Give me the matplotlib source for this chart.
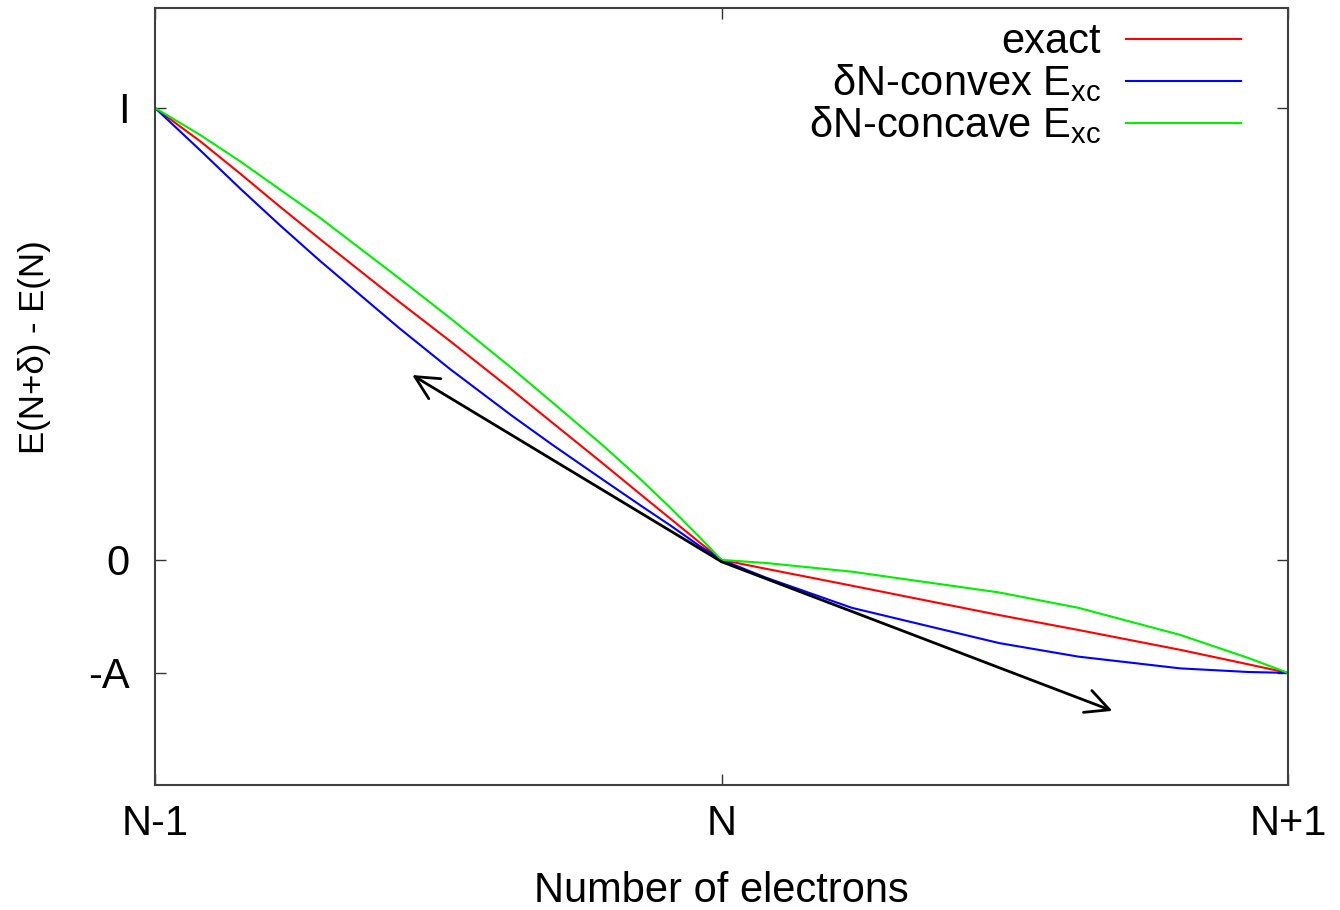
import matplotlib
matplotlib.use("Agg")
import matplotlib.pyplot as plt

# ---- data ----
x_vals = [-1.0, -0.92, -0.85, -0.78, -0.71, -0.57, -0.48, -0.37, -0.30, -0.21,
          -0.14, -0.09, -0.04, 0.0, 0.08, 0.23, 0.49, 0.63, 0.81, 0.93, 1.0]
exact = [1.0, 0.926, 0.855, 0.782, 0.711, 0.572, 0.485, 0.376, 0.305, 0.214,
         0.142, 0.091, 0.040, 0.0, -0.020, -0.057, -0.122, -0.155, -0.199, -0.231, -0.25]
convex = [1.0, 0.906, 0.822, 0.741, 0.663, 0.514, 0.423, 0.319, 0.256, 0.178,
          0.118, 0.076, 0.032, 0.0, -0.040, -0.106, -0.184, -0.214, -0.240, -0.248, -0.25]
concave = [1.0, 0.940, 0.882, 0.820, 0.758, 0.624, 0.536, 0.424, 0.350, 0.254,
           0.175, 0.115, 0.052, 0.0, -0.007, -0.026, -0.072, -0.106, -0.166, -0.217, -0.25]

series_labels = ["exact", r"δN-convex E$_{xc}$", r"δN-concave E$_{xc}$"]
series_colors = ["#ff0000", "#0000ff", "#00ee00"]

arrow_tail = (0.0, -0.004)
arrow_heads = [(-0.546, 0.409), (0.690, -0.334)]

x_ticks = [-1, 0, 1]
x_ticklabels = ["N-1", "N", "N+1"]
y_ticks = [1.0, 0.0, -0.25]
y_ticklabels = ["I", "0", "-A"]

# ---- figure ----
plt.rcParams["font.family"] = ["Liberation Sans", "DejaVu Sans"]
plt.rcParams["mathtext.default"] = "regular"

fig = plt.figure(figsize=(13.4, 9.1), dpi=100)
ax = fig.add_axes([155 / 1340, 1 - 785 / 910, (1288 - 155) / 1340, (785 - 8) / 910])

for ys, lab, col in zip([exact, convex, concave], series_labels, series_colors):
    ax.plot(x_vals, ys, color=col, lw=1.5, label=lab)

for head in arrow_heads:
    ax.annotate("", xy=head, xytext=arrow_tail,
                arrowprops=dict(arrowstyle="->", lw=2.0, color="black",
                                shrinkA=0, shrinkB=0, mutation_scale=42))

ax.set_xlim(-1, 1)
ax.set_ylim(-0.498, 1.221)
ax.set_xticks(x_ticks)
ax.set_xticklabels(x_ticklabels)
ax.set_yticks(y_ticks)
ax.set_yticklabels(y_ticklabels)
ax.tick_params(axis="both", direction="in", length=8, width=1.0, labelsize=30,
               top=True, right=True, color="#333333")
ax.tick_params(axis="x", pad=14)
ax.tick_params(axis="y", pad=18)
for sp in ax.spines.values():
    sp.set_linewidth(1.5)
    sp.set_color("#404040")

ax.set_xlabel("Number of electrons", fontsize=30, labelpad=19)
ax.set_ylabel("E(N+δ) - E(N)", fontsize=25)
ax.yaxis.label.set_verticalalignment("center")
ax.yaxis.set_label_coords(-0.106, 0.564)

leg = ax.legend(loc="upper right", frameon=False, markerfirst=False, fontsize=30,
                handlelength=2.75, handletextpad=0.6, labelspacing=0.0,
                borderaxespad=0.0, bbox_to_anchor=(0.973, 1.003))
for t in leg.get_texts():
    t.set_ha("right")

fig.savefig("out.png", dpi=100)
